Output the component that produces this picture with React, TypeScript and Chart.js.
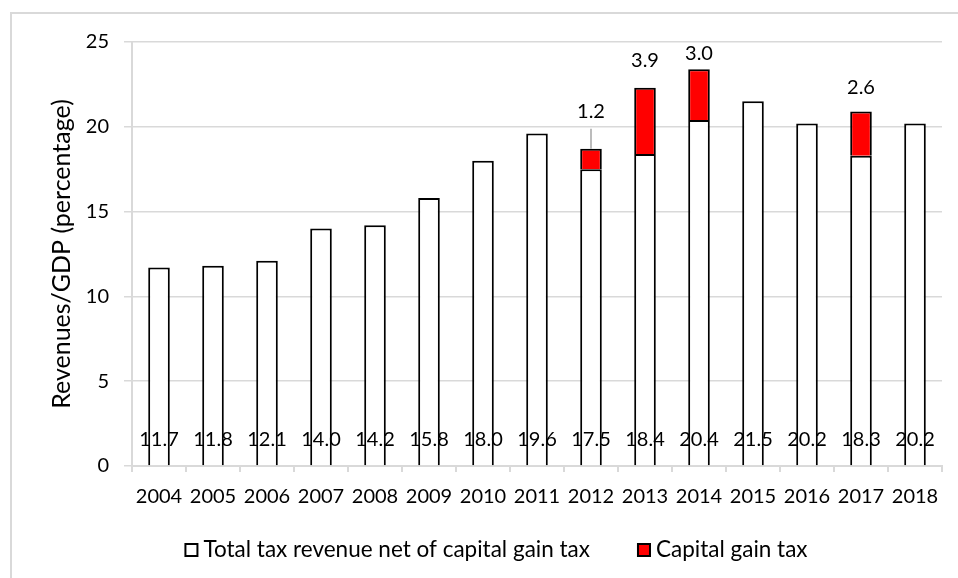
import React, { useEffect, useRef } from "react";
import { Chart, registerables } from "chart.js";

Chart.register(...registerables);

const years = ["2004", "2005", "2006", "2007", "2008", "2009", "2010", "2011", "2012", "2013", "2014", "2015", "2016", "2017", "2018"];
const netRevenue = [11.7, 11.8, 12.1, 14.0, 14.2, 15.8, 18.0, 19.6, 17.5, 18.4, 20.4, 21.5, 20.2, 18.3, 20.2];
const capitalGain: (number | null)[] = [null, null, null, null, null, null, null, null, 1.2, 3.9, 3.0, null, null, 2.6, null];
const yTicks = [0, 5, 10, 15, 20, 25];
const seriesNames = ["Total tax revenue net of capital gain tax", "Capital gain tax"];
const axisTitle = "Revenues/GDP (percentage)";

const FONT = "Lato, 'Open Sans', sans-serif";
const NUM_SIZE = 20;
const LEGEND_SIZE = 22.5;
const TITLE_SIZE = 25;

const labelPlugin = {
  id: "barLabels",
  afterDatasetsDraw(chart: any, _args: any, opts: any) {
    const ctx = chart.ctx;
    ctx.save();
    ctx.font = `${NUM_SIZE}px ${FONT}`;
    ctx.fillStyle = "#000";
    ctx.textAlign = "center";
    ctx.textBaseline = "middle";
    const m0 = chart.getDatasetMeta(0);
    m0.data.forEach((bar: any, i: number) => {
      const v = netRevenue[i];
      if (v == null) return;
      ctx.fillText(v.toFixed(1), bar.x, bar.base - opts.baseOffset);
    });
    const m1 = chart.getDatasetMeta(1);
    m1.data.forEach((bar: any, i: number) => {
      const v = capitalGain[i];
      if (v == null) return;
      const lift = opts.lift[years[i]] ?? opts.defaultLift;
      const y = bar.y - lift;
      if (lift > 30) {
        ctx.save();
        ctx.strokeStyle = "#a6a6a6";
        ctx.lineWidth = 1.5;
        ctx.beginPath();
        ctx.moveTo(bar.x, y + 17);
        ctx.lineTo(bar.x, bar.y);
        ctx.stroke();
        ctx.restore();
      }
      ctx.fillText(v.toFixed(1), bar.x, y);
    });
    ctx.restore();
  },
};

const legendPlugin = {
  id: "customLegend",
  afterDraw(chart: any, _args: any, opts: any) {
    const ctx = chart.ctx;
    const ds = chart.data.datasets;
    ctx.save();
    ctx.font = `${LEGEND_SIZE}px ${FONT}`;
    ctx.textBaseline = "middle";
    ctx.textAlign = "left";
    const box = opts.boxSize;
    const widths = ds.map((d: any) => box + opts.textGap + ctx.measureText(d.label).width);
    const total = widths.reduce((a: number, b: number) => a + b, 0) + opts.itemGap * (ds.length - 1);
    let x = chart.width / 2 + opts.centerShift - total / 2;
    const y = opts.y;
    ds.forEach((d: any, i: number) => {
      ctx.fillStyle = d.backgroundColor;
      ctx.fillRect(x, y - box / 2, box, box);
      ctx.strokeStyle = d.borderColor;
      ctx.lineWidth = 2;
      ctx.strokeRect(x + 1, y - box / 2 + 1, box - 2, box - 2);
      ctx.fillStyle = "#000";
      ctx.fillText(d.label, x + box + opts.textGap, y);
      x += widths[i] + opts.itemGap;
    });
    ctx.restore();
  },
};

export default function App() {
  const ref = useRef<HTMLCanvasElement | null>(null);
  useEffect(() => {
    if (!ref.current) return;
    const font = { family: FONT, size: NUM_SIZE };
    const chart = new Chart(ref.current, {
      type: "bar",
      data: {
        labels: years,
        datasets: [
          {
            label: seriesNames[0],
            data: netRevenue,
            backgroundColor: "#ffffff",
            borderColor: "#000000",
            borderWidth: 2,
            barPercentage: 0.4,
            categoryPercentage: 1,
          },
          {
            label: seriesNames[1],
            data: capitalGain,
            backgroundColor: "#ff0000",
            borderColor: "#000000",
            borderWidth: 2,
            barPercentage: 0.4,
            categoryPercentage: 1,
          },
        ],
      },
      options: {
        animation: false,
        responsive: false,
        maintainAspectRatio: false,
        layout: { padding: { left: 45, right: 16, top: 42, bottom: 0 } },
        plugins: {
          tooltip: { enabled: false },
          legend: { display: false },
          barLabels: { baseOffset: 26, defaultLift: 16, lift: { "2012": 37, "2013": 27, "2014": 16, "2017": 24 } },
          customLegend: { boxSize: 14, textGap: 5, itemGap: 47, centerShift: 17, y: 550 },
        } as any,
        scales: {
          x: {
            stacked: true,
            grid: { display: true, drawOnChartArea: false, drawTicks: true, tickLength: 6, color: "#d9d9d9", lineWidth: 2, offset: true },
            border: { display: true, color: "#d9d9d9", width: 2 },
            ticks: { font, color: "#000", padding: 13, maxRotation: 0, autoSkip: false },
            afterFit: (s: any) => { s.height = 112; },
          },
          y: {
            stacked: true,
            min: 0,
            max: 25,
            afterBuildTicks: (s: any) => { s.ticks = yTicks.map((v) => ({ value: v })); },
            ticks: { font, color: "#000", padding: 15 },
            grid: { color: "#d9d9d9", lineWidth: 1.5, tickLength: 8, drawTicks: true },
            border: { display: true, color: "#d9d9d9", width: 2 },
            title: { display: true, text: axisTitle, font: { family: FONT, size: TITLE_SIZE }, color: "#000", padding: { top: 2, bottom: 0 } },
            afterFit: (s: any) => { s.width = 87; },
          },
        },
      },
      plugins: [labelPlugin, legendPlugin],
    });
    return () => chart.destroy();
  }, []);
  return (
    <div style={{ position: "fixed", left: 0, top: 0, width: 958, height: 578, overflow: "hidden", background: "#fff" }}>
      <div style={{ position: "absolute", left: 10, top: 12, width: 1000, height: 1000, borderLeft: "2px solid #d9d9d9", borderTop: "2px solid #d9d9d9" }} />
      <canvas ref={ref} width={958} height={578} style={{ position: "absolute", left: 0, top: 0, width: 958, height: 578 }} />
    </div>
  );
}
